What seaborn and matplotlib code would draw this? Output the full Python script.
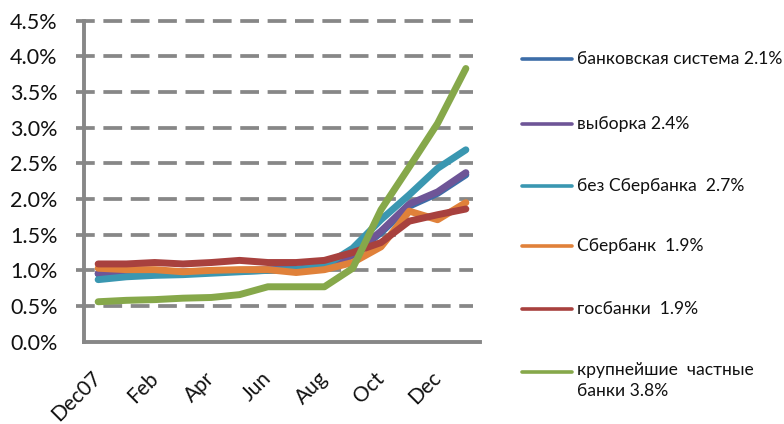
import numpy as np
import pandas as pd
import matplotlib
matplotlib.use("Agg")
import matplotlib.pyplot as plt
from matplotlib.lines import Line2D
import seaborn as sns

months = ["Dec07", "Jan", "Feb", "Mar", "Apr", "May", "Jun",
          "Jul", "Aug", "Sep", "Oct", "Nov", "Dec", "Jan09"]
shown_labels = ["Dec07", "Feb", "Apr", "Jun", "Aug", "Oct", "Dec"]

series_names = ["банковская система 2.1%", "выборка 2.4%", "без Сбербанка  2.7%",
                "Сбербанк  1.9%", "госбанки  1.9%", "крупнейшие  частные\nбанки 3.8%"]

banking_system = [0.95, 0.96, 0.97, 0.97, 0.98, 0.99, 1.00, 1.01, 1.04, 1.21, 1.53, 1.90, 2.08, 2.34]
sample = [0.96, 0.97, 0.98, 0.98, 0.99, 1.00, 1.01, 1.02, 1.05, 1.22, 1.55, 1.93, 2.10, 2.37]
no_sberbank = [0.87, 0.91, 0.93, 0.94, 0.96, 0.98, 1.00, 1.01, 1.06, 1.31, 1.71, 2.06, 2.43, 2.69]
sberbank = [1.03, 1.01, 1.01, 0.98, 1.00, 1.01, 1.01, 0.97, 1.01, 1.11, 1.33, 1.83, 1.71, 1.95]
state_banks = [1.09, 1.09, 1.11, 1.09, 1.11, 1.14, 1.11, 1.11, 1.14, 1.25, 1.39, 1.69, 1.78, 1.86]
largest_private = [0.56, 0.58, 0.59, 0.61, 0.62, 0.66, 0.77, 0.77, 0.77, 1.03, 1.85, 2.45, 3.06, 3.83]

colors = ["#3D6DA8", "#6E5597", "#3A97B1", "#E0813A", "#A8413E", "#86A84A"]

all_values = [banking_system, sample, no_sberbank, sberbank, state_banks, largest_private]
frames = []
for name, vals in zip(series_names, all_values):
    frames.append(pd.DataFrame({"idx": np.arange(len(months)), "value": vals, "series": name}))
df = pd.concat(frames, ignore_index=True)

sns.set_style("white")
plt.rcParams["font.family"] = ["Lato", "DejaVu Sans"]

fig = plt.figure(figsize=(7.84, 4.24), dpi=100)
ax = fig.add_axes([84 / 784, 1 - 341.7 / 424, (480 - 84) / 784, (341.7 - 20.7) / 424])

sns.lineplot(data=df, x="idx", y="value", hue="series", hue_order=series_names,
             palette=colors, linewidth=5.0, ax=ax, legend=False,
             solid_capstyle="round", solid_joinstyle="round")

grid_color = "#878787"
text_color = "#111111"
ax.set_xlim(-0.5, len(months) - 0.5)
ax.set_ylim(0, 4.5)
yt = np.arange(0, 4.51, 0.5)
ax.set_yticks(yt)
ax.set_yticklabels([f"{v:.1f}%" for v in yt], fontsize=15.5, color=text_color)
for v in yt[1:]:
    ax.axhline(v, xmin=-0.02, xmax=0.982, color=grid_color, lw=2.7,
               linestyle=(0, (5, 2.3)), zorder=0, clip_on=False)

# category boundaries carry the tick marks, labels sit on every other month
ax.set_xticks(np.arange(-0.5, len(months), 1.0))
ax.set_xticklabels([])
label_pos = [months.index(m) for m in shown_labels]
ax.set_xticks(label_pos, minor=True)
ax.set_xticklabels(shown_labels, minor=True, rotation=45, ha="right", va="center",
                   rotation_mode="anchor", fontsize=15, color=text_color)
ax.tick_params(axis="x", which="major", direction="out", length=5, width=2.6, color=grid_color)
ax.tick_params(axis="x", which="minor", length=0, pad=24)
ax.tick_params(axis="y", direction="out", length=6, width=2.6, color=grid_color, pad=13)
ax.set_xlabel("")
ax.set_ylabel("")

for side in ["top", "right"]:
    ax.spines[side].set_visible(False)
for side in ["left", "bottom"]:
    ax.spines[side].set_color(grid_color)
    ax.spines[side].set_linewidth(2.8)
ax.set_facecolor("white")

# legend on the right, one entry per series
legend_y = [59, 124, 186, 246, 309, 372]
for name, col, y in zip(series_names, colors, legend_y):
    fy = 1 - y / 424
    fig.add_artist(Line2D([522 / 784, 572 / 784], [fy, fy], color=col, lw=2.6,
                          transform=fig.transFigure))
    if "\n" in name:
        fig.text(577 / 784, fy + 10 / 424, name, fontsize=12.6, color=text_color,
                 va="top", ha="left", linespacing=1.4, transform=fig.transFigure)
    else:
        fig.text(577 / 784, fy, name, fontsize=12.6, color=text_color,
                 va="center", ha="left", transform=fig.transFigure)

fig.savefig("out.png", dpi=100, facecolor="white")
